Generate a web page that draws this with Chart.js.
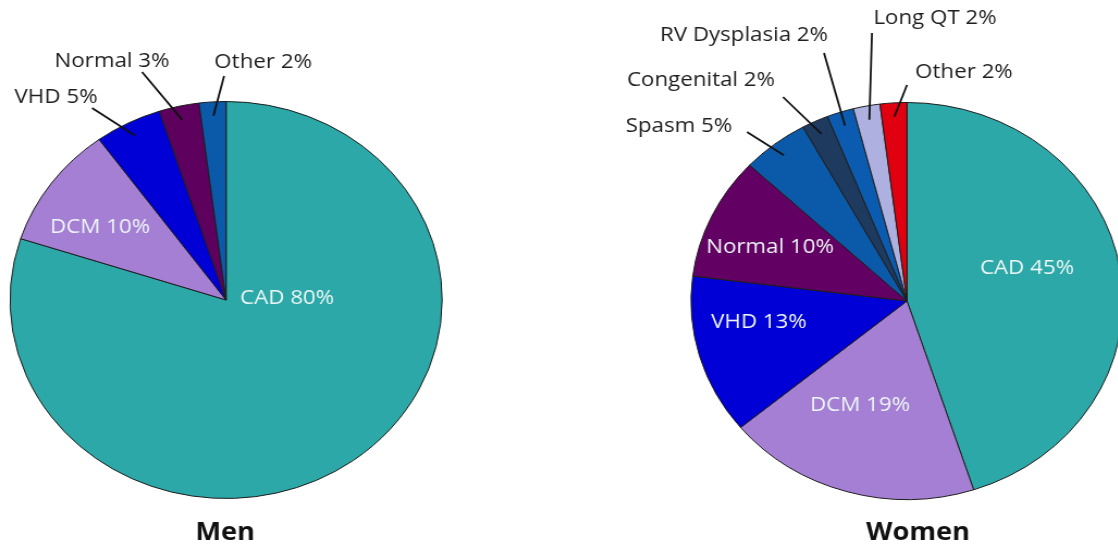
<!DOCTYPE html>
<html>
<head>
<meta charset="utf-8">
<script src="https://cdn.jsdelivr.net/npm/chart.js@4.4.1/dist/chart.umd.min.js"></script>
<style>
  html, body { margin: 0; padding: 0; background: #fff; overflow: hidden; width: 1118px; height: 551px; }
  canvas { position: absolute; top: 0; }
</style>
</head>
<body>
<canvas id="menChart"></canvas>
<canvas id="womenChart"></canvas>
<script>
// ---- data -----------------------------------------------------------------
const menLabels = ['CAD', 'DCM', 'VHD', 'Normal', 'Other'];
const menValues = [80, 10, 5, 3, 2];

const womenLabels = ['CAD', 'DCM', 'VHD', 'Normal', 'Spasm', 'Congenital', 'RV Dysplasia', 'Long QT', 'Other'];
const womenValues = [45, 19, 13, 10, 5, 2, 2, 2, 2];

// ---- look -----------------------------------------------------------------
const SX = 1.088;            // the source pies are slightly wider than tall
const LABEL_FONT = '20.5px "Open Sans", sans-serif';
const TITLE_FONT = 'bold 25px "Open Sans", sans-serif';

const menColors = ['#2ca8a8', '#a47fd3', '#0000d6', '#5e005e', '#0b5aaa'];
const womenColors = ['#2ca8a8', '#a47fd3', '#0000d6', '#630063', '#0b5aaa', '#1f3a5f', '#0b5cb0', '#aeb0e0', '#e0000f'];

// label spots in page pixels; lx/ly = outer end of the leader line
const menLayout = {
  left: 0, width: 520, cx: 226, cy: 300, r: 198.5,
  title: 'Men', titleX: 225, titleY: 533,
  spots: {
    'CAD': { x: 287, y: 298 },
    'DCM': { x: 100, y: 227 },
    'VHD': { x: 56, y: 97, lx: 92, ly: 108 },
    'Normal': { x: 112, y: 61, lx: 142, ly: 72 },
    'Other': { x: 263, y: 62, lx: 224, ly: 76 },
  },
};

const womenLayout = {
  left: 540, width: 580, cx: 907, cy: 301, r: 198.5,
  title: 'Women', titleX: 918, titleY: 533,
  spots: {
    'CAD': { x: 1027, y: 268 },
    'DCM': { x: 860, y: 405 },
    'VHD': { x: 759, y: 322 },
    'Normal': { x: 770, y: 247 },
    'Spasm': { x: 679, y: 126, lx: 747, ly: 132 },
    'Congenital': { x: 701, y: 80, lx: 783, ly: 97 },
    'RV Dysplasia': { x: 744, y: 35, lx: 824, ly: 53 },
    'Long QT': { x: 935, y: 18, lx: 872, ly: 33 },
    'Other': { x: 964, y: 72, lx: 907, ly: 85 },
  },
};

function labelPlugin(layout) {
  return {
    id: 'sliceLabels',
    afterDraw(chart) {
      const ctx = chart.ctx;
      const meta = chart.getDatasetMeta(0);
      const values = chart.data.datasets[0].data;
      const toX = (x) => (x - layout.left) / SX;

      ctx.save();
      ctx.textAlign = 'center';
      ctx.textBaseline = 'middle';
      ctx.font = LABEL_FONT;

      chart.data.labels.forEach((name, i) => {
        const spot = layout.spots[name];
        const arc = meta.data[i];
        const text = name + ' ' + values[i] + '%';
        if (spot.lx !== undefined) {
          const mid = (arc.startAngle + arc.endAngle) / 2;
          const ix = arc.x + Math.cos(mid) * arc.outerRadius * 0.93;
          const iy = arc.y + Math.sin(mid) * arc.outerRadius * 0.93;
          ctx.strokeStyle = '#111';
          ctx.lineWidth = 1.8;
          ctx.beginPath();
          ctx.moveTo(toX(spot.lx), spot.ly);
          ctx.lineTo(ix, iy);
          ctx.stroke();
          ctx.fillStyle = '#1e1e1e';
        } else {
          ctx.fillStyle = '#eef6f6';
        }
        ctx.fillText(text, toX(spot.x), spot.y);
      });

      ctx.font = TITLE_FONT;
      ctx.fillStyle = '#111';
      ctx.fillText(layout.title, toX(layout.titleX), layout.titleY);
      ctx.restore();
    },
  };
}

function renderPie(id, labels, values, colors, layout) {
  const canvas = document.getElementById(id);
  const H = 551;
  canvas.width = layout.width;
  canvas.height = H;
  canvas.style.left = layout.left + 'px';
  canvas.style.width = (layout.width * SX) + 'px';
  canvas.style.height = H + 'px';

  // place the pie by padding the chart area around the wanted centre
  const cx = (layout.cx - layout.left) / SX;
  const box = layout.r + 0.5;
  const pad = {
    left: cx - box,
    right: layout.width - cx - box,
    top: layout.cy - box,
    bottom: H - layout.cy - box,
  };

  new Chart(canvas, {
    type: 'pie',
    data: {
      labels: labels,
      datasets: [{
        data: values,
        backgroundColor: colors,
        borderColor: '#1c1c1c',
        borderWidth: 1,
      }],
    },
    options: {
      responsive: false,
      animation: false,
      layout: { padding: pad },
      plugins: {
        legend: { display: false },
        tooltip: { enabled: false },
      },
    },
    plugins: [labelPlugin(layout)],
  });
}

document.addEventListener('DOMContentLoaded', function () {
  if (typeof Chart === 'undefined') {
    console.error('Chart.js is not loaded.');
    return;
  }
  renderPie('menChart', menLabels, menValues, menColors, menLayout);
  renderPie('womenChart', womenLabels, womenValues, womenColors, womenLayout);
});
</script>
</body>
</html>
